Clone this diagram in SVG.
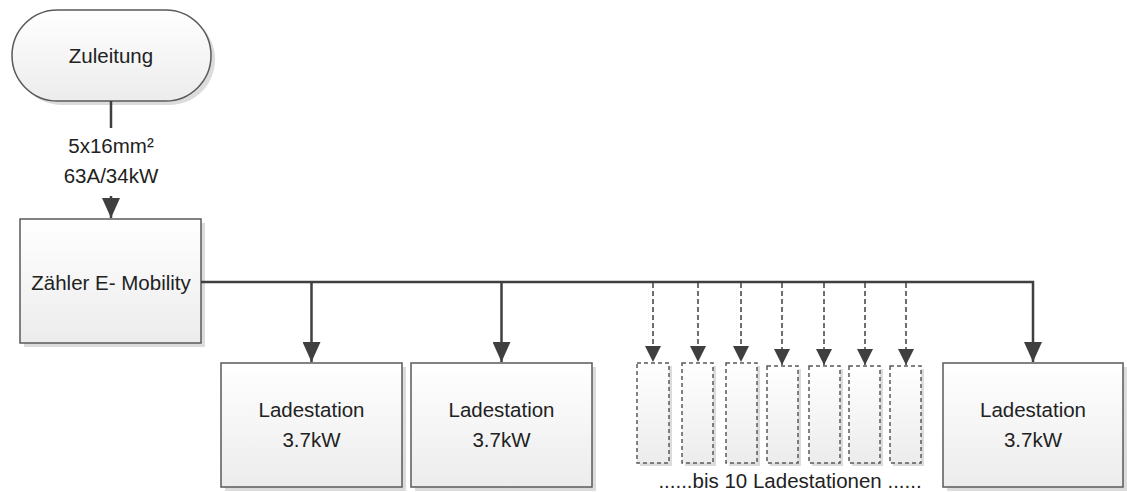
<svg xmlns="http://www.w3.org/2000/svg" width="1127" height="492" viewBox="0 0 1127 492">
<style>
.node{fill:url(#g);stroke:#5a5a5a;stroke-width:1.5}
.dnode{fill:url(#g);stroke:#5a5a5a;stroke-width:1.5;stroke-dasharray:4 3}
.sh{fill:#dcdcdc}
.t{font-family:"Liberation Sans",Arial,sans-serif;font-size:20.5px;fill:#222;text-anchor:middle}
.c{fill:none;stroke:#3f3f3f;stroke-width:2.5}
.d{fill:none;stroke:#3f3f3f;stroke-width:1.5;stroke-dasharray:5 3}
</style>
<defs>
<linearGradient id="g" x1="0" y1="0" x2="0" y2="1">
<stop offset="0" stop-color="#ffffff"/>
<stop offset="1" stop-color="#ececec"/>
</linearGradient>
<marker id="a" viewBox="0 0 18 20" refX="9" refY="20" markerWidth="18" markerHeight="20" markerUnits="userSpaceOnUse">
<path d="M0,0 L18,0 L9,20 Z" fill="#3f3f3f"/>
</marker>
<marker id="ad" viewBox="0 0 16 16" refX="8" refY="16" markerWidth="16" markerHeight="16" markerUnits="userSpaceOnUse">
<path d="M0,0 L16,0 L8,16 Z" fill="#3f3f3f"/>
</marker>
</defs>

<g id="zuleitung">
<rect class="sh" x="16" y="14" width="199" height="91" rx="45.5"/>
<rect class="node" x="12" y="10" width="199" height="91" rx="45.5"/>
<text class="t" x="111" y="63">Zuleitung</text>
</g>

<g id="zaehler">
<rect class="sh" x="24" y="223" width="181" height="124"/>
<rect class="node" x="20" y="219" width="181" height="124"/>
<text class="t" x="111" y="290">Zähler E- Mobility</text>
</g>

<g id="ladestation1">
<rect class="sh" x="225" y="367" width="181" height="124"/>
<rect class="node" x="221" y="363" width="181" height="124"/>
<text class="t" x="311.5" y="417">Ladestation</text>
<text class="t" x="311.5" y="447">3.7kW</text>
</g>

<g id="ladestation2">
<rect class="sh" x="415" y="367" width="181" height="124"/>
<rect class="node" x="411" y="363" width="181" height="124"/>
<text class="t" x="501.5" y="417">Ladestation</text>
<text class="t" x="501.5" y="447">3.7kW</text>
</g>

<g id="ladestation3">
<rect class="sh" x="947" y="367" width="180" height="124"/>
<rect class="node" x="943" y="363" width="180" height="124"/>
<text class="t" x="1033" y="417">Ladestation</text>
<text class="t" x="1033" y="447">3.7kW</text>
</g>

<g id="placeholders">
<rect class="sh" x="640" y="366" width="32" height="100"/>
<rect class="dnode" x="637" y="363" width="32" height="100"/>
<rect class="sh" x="685" y="366" width="31" height="100"/>
<rect class="dnode" x="682" y="363" width="31" height="100"/>
<rect class="sh" x="729" y="366" width="31" height="100"/>
<rect class="dnode" x="726" y="363" width="31" height="100"/>
<rect class="sh" x="770" y="369" width="31" height="97"/>
<rect class="dnode" x="767" y="366" width="31" height="97"/>
<rect class="sh" x="812" y="369" width="31" height="97"/>
<rect class="dnode" x="809" y="366" width="31" height="97"/>
<rect class="sh" x="852" y="369" width="31" height="97"/>
<rect class="dnode" x="849" y="366" width="31" height="97"/>
<rect class="sh" x="893" y="369" width="31" height="97"/>
<rect class="dnode" x="890" y="366" width="31" height="97"/>
<text class="t" x="790" y="488">......bis 10 Ladestationen ......</text>
</g>

<g id="connectors">
<path class="c" d="M111,101 V128"/>
<path class="c" d="M111,196 V218" marker-end="url(#a)"/>
<text class="t" x="111" y="153">5x16mm²</text>
<text class="t" x="111" y="183">63A/34kW</text>
<path class="c" d="M201,282 H1033 V362" marker-end="url(#a)"/>
<path class="c" d="M311.5,282 V362" marker-end="url(#a)"/>
<path class="c" d="M501.5,282 V362" marker-end="url(#a)"/>
<path class="d" d="M653,283 V362" marker-end="url(#ad)"/>
<path class="d" d="M698,283 V362" marker-end="url(#ad)"/>
<path class="d" d="M741,283 V362" marker-end="url(#ad)"/>
<path class="d" d="M782,283 V365" marker-end="url(#ad)"/>
<path class="d" d="M824,283 V365" marker-end="url(#ad)"/>
<path class="d" d="M865,283 V365" marker-end="url(#ad)"/>
<path class="d" d="M906,283 V365" marker-end="url(#ad)"/>
</g>
</svg>
